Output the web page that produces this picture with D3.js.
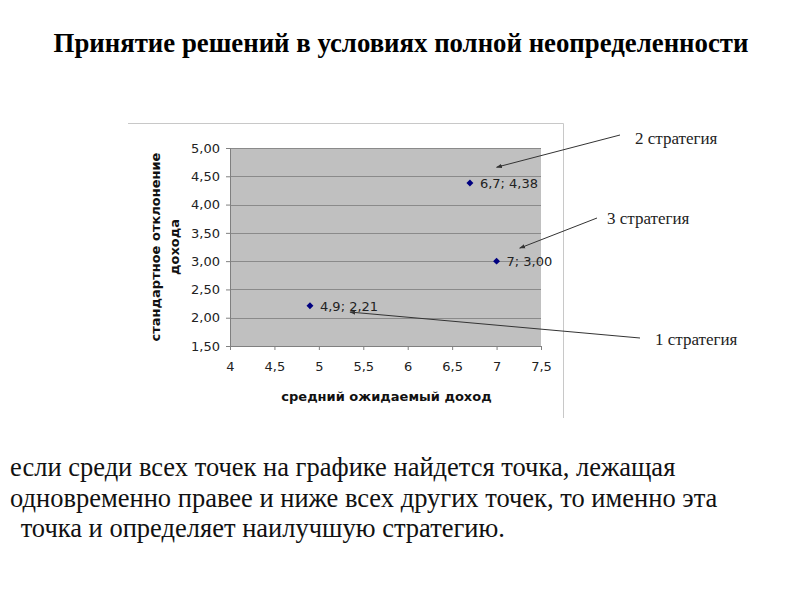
<!DOCTYPE html>
<html>
<head>
<meta charset="utf-8">
<script src="https://cdn.jsdelivr.net/npm/d3@7"></script>
<style>
  body { margin: 0; background: #fff; }
  svg { display: block; }
  .serif { font-family: "Liberation Serif", "DejaVu Serif", serif; }
</style>
</head>
<body>
<div id="chart"></div>
<script>
// strategies: expected income (x) and std deviation (y)
var incomeMean = [4.9, 6.7, 7.0],
    incomeStd = [2.21, 4.38, 3.00],
    pointLabels = ["4,9; 2,21", "6,7; 4,38", "7; 3,00"];

var xTicks = [4, 4.5, 5, 5.5, 6, 6.5, 7, 7.5],
    yTicks = [1.5, 2, 2.5, 3, 3.5, 4, 4.5, 5];

// callouts: text and the point (in data units) the arrow points to
var calloutText = ["2 стратегия", "3 стратегия", "1 стратегия"],
    calloutTargetX = [7.0, 7.26, 5.35],
    calloutTargetY = [4.66, 3.23, 2.10];

var textLines = ["если среди всех точек на графике найдется точка, лежащая",
                 "одновременно правее и ниже всех других точек, то именно эта",
                 "\u00a0точка и определяет наилучшую стратегию."];

var width = 800,
    height = 600,
    plot = {left: 230, top: 148, right: 541, bottom: 346};

var comma = function(d, n) { return d.toFixed(n).replace(".", ","); };

var xScale = d3.scaleLinear().domain([4, 7.5]).range([plot.left, plot.right]),
    yScale = d3.scaleLinear().domain([1.5, 5]).range([plot.bottom, plot.top]);

var svg = d3.select("#chart").append("svg")
    .attr("width", width)
    .attr("height", height);

svg.append("defs").append("marker")
    .attr("id", "arrow")
    .attr("viewBox", "0 0 10 10")
    .attr("refX", 9).attr("refY", 5)
    .attr("markerWidth", 6).attr("markerHeight", 6)
    .attr("orient", "auto")
  .append("path")
    .attr("d", "M0,1.5L10,5L0,8.5z")
    .attr("fill", "#333");

// title
svg.append("text")
    .attr("class", "serif")
    .attr("x", 401).attr("y", 52)
    .attr("text-anchor", "middle")
    .style("font-weight", "bold")
    .style("font-size", "26.8px")
    .text("Принятие решений в условиях полной неопределенности");

// chart frame (only top and right edges show)
svg.append("path")
    .attr("d", "M128,123.5H563.5V418")
    .attr("fill", "none")
    .attr("stroke", "#c8c8c8");

svg.append("rect")
    .attr("x", plot.left).attr("y", plot.top)
    .attr("width", plot.right - plot.left)
    .attr("height", plot.bottom - plot.top)
    .attr("fill", "#c0c0c0");

svg.append("g")
  .selectAll("line")
  .data(yTicks.slice(1))
  .enter().append("line")
    .attr("x1", plot.left).attr("x2", plot.right)
    .attr("y1", function(d) { return Math.round(yScale(d)) + 0.5; })
    .attr("y2", function(d) { return Math.round(yScale(d)) + 0.5; })
    .attr("stroke", "#8a8a8a");

var xAxis = d3.axisBottom(xScale)
    .tickValues(xTicks)
    .tickSize(4)
    .tickPadding(12)
    .tickFormat(function(d) { return d % 1 ? comma(d, 1) : d; });

var yAxis = d3.axisLeft(yScale)
    .tickValues(yTicks)
    .tickSize(4)
    .tickPadding(6)
    .tickFormat(function(d) { return comma(d, 2); });

var gx = svg.append("g")
    .attr("transform", "translate(0," + plot.bottom + ")")
    .call(xAxis);
var gy = svg.append("g")
    .attr("transform", "translate(" + plot.left + ",0)")
    .call(yAxis);

[gx, gy].forEach(function(g) {
  g.selectAll("path, line").attr("stroke", "#808080");
  g.selectAll("text")
    .attr("fill", "#222")
    .style("font-family", "DejaVu Sans")
    .style("font-size", "13px");
});

svg.append("text")
    .attr("x", (plot.left + plot.right) / 2 + 1).attr("y", 401)
    .attr("text-anchor", "middle")
    .style("font-family", "DejaVu Sans")
    .style("font-weight", "bold")
    .style("font-size", "13px")
    .attr("fill", "#111")
    .text("средний ожидаемый доход");

var yTitle = svg.append("text")
    .attr("transform", "translate(160," + (plot.top + plot.bottom) / 2 + ") rotate(-90)")
    .attr("text-anchor", "middle")
    .style("font-family", "DejaVu Sans")
    .style("font-weight", "bold")
    .style("font-size", "13px")
    .attr("fill", "#111");
yTitle.append("tspan").attr("x", 0).attr("y", 0).text("стандартное отклонение");
yTitle.append("tspan").attr("x", 0).attr("y", 19).text("дохода");

// points
svg.append("g")
  .selectAll("path")
  .data(incomeMean)
  .enter().append("path")
    .attr("transform", function(d, i) { return "translate(" + xScale(d) + "," + yScale(incomeStd[i]) + ") rotate(45)"; })
    .attr("d", d3.symbol().type(d3.symbolSquare).size(24))
    .attr("fill", "#000080");

svg.append("g")
  .selectAll("text")
  .data(incomeMean)
  .enter().append("text")
    .attr("x", function(d) { return xScale(d) + 10; })
    .attr("y", function(d, i) { return yScale(incomeStd[i]) + 5; })
    .style("font-family", "DejaVu Sans")
    .style("font-size", "13px")
    .attr("fill", "#222")
    .text(function(d, i) { return pointLabels[i]; });

// callouts
var calloutPos = [{x: 635, y: 144, ax: 620, ay: 135},
                  {x: 607, y: 224, ax: 597, ay: 218},
                  {x: 655, y: 345, ax: 640, ay: 338}];

svg.append("g")
  .selectAll("line")
  .data(calloutText)
  .enter().append("line")
    .attr("x1", function(d, i) { return calloutPos[i].ax; })
    .attr("y1", function(d, i) { return calloutPos[i].ay; })
    .attr("x2", function(d, i) { return xScale(calloutTargetX[i]); })
    .attr("y2", function(d, i) { return yScale(calloutTargetY[i]); })
    .attr("stroke", "#333")
    .attr("stroke-width", 1)
    .attr("marker-end", "url(#arrow)");

svg.append("g")
  .selectAll("text")
  .data(calloutText)
  .enter().append("text")
    .attr("class", "serif")
    .attr("x", function(d, i) { return calloutPos[i].x; })
    .attr("y", function(d, i) { return calloutPos[i].y; })
    .style("font-size", "17px")
    .attr("fill", "#222")
    .text(function(d) { return d; });

// bottom note
svg.append("g")
  .selectAll("text")
  .data(textLines)
  .enter().append("text")
    .attr("class", "serif")
    .attr("x", function(d, i) { return i === 2 ? 14 : 10; })
    .attr("y", function(d, i) { return 476 + i * 30.5; })
    .style("font-size", "26.5px")
    .attr("fill", "#111")
    .text(function(d) { return d; });
</script>
</body>
</html>
